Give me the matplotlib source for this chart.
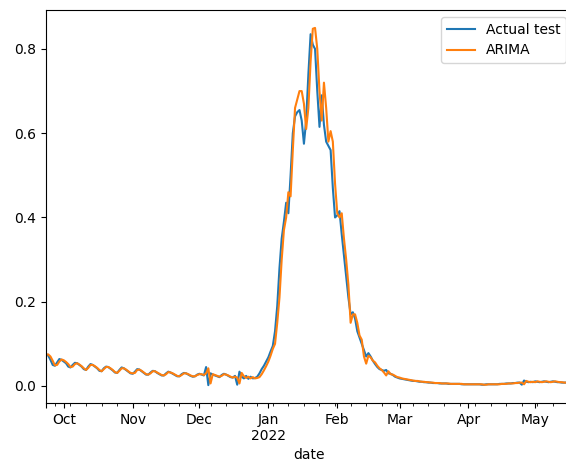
import pandas as pd
import matplotlib
matplotlib.use("Agg")
import matplotlib.pyplot as plt

# daily values, 2021-09-23 .. 2022-05-18
actual_sep = [0.076, 0.072, 0.062, 0.050, 0.048, 0.056, 0.064, 0.062]
actual_oct = [0.058, 0.054, 0.046, 0.044, 0.050, 0.055, 0.054, 0.050, 0.046, 0.040, 0.038,
              0.046, 0.052, 0.050, 0.046, 0.042, 0.036, 0.035, 0.042, 0.046, 0.045, 0.041,
              0.037, 0.032, 0.031, 0.038, 0.044, 0.042, 0.038, 0.034, 0.030]
actual_nov = [0.029, 0.034, 0.040, 0.039, 0.035, 0.031, 0.027, 0.027, 0.032, 0.036, 0.035,
              0.031, 0.028, 0.025, 0.025, 0.030, 0.034, 0.032, 0.029, 0.026, 0.023, 0.023,
              0.028, 0.031, 0.030, 0.027, 0.024, 0.022, 0.023, 0.027]
actual_dec = [0.029, 0.027, 0.025, 0.045, 0.002, 0.030, 0.027, 0.025, 0.023, 0.021, 0.026,
              0.029, 0.027, 0.024, 0.021, 0.020, 0.024, 0.003, 0.034, 0.022, 0.018, 0.024,
              0.017, 0.022, 0.018, 0.019, 0.022, 0.030, 0.040, 0.048, 0.058]
actual_jan = [0.068, 0.082, 0.095, 0.13, 0.19, 0.28, 0.35, 0.39, 0.435, 0.41, 0.50,
              0.60, 0.64, 0.65, 0.655, 0.63, 0.575, 0.63, 0.74, 0.835, 0.81, 0.80,
              0.70, 0.615, 0.69, 0.62, 0.58, 0.57, 0.56, 0.47, 0.40]
actual_feb = [0.405, 0.415, 0.36, 0.31, 0.26, 0.21, 0.17, 0.175, 0.16, 0.13, 0.115,
              0.10, 0.085, 0.07, 0.078, 0.07, 0.06, 0.052, 0.045, 0.040, 0.038, 0.036,
              0.038, 0.030, 0.029, 0.026, 0.022, 0.020]
actual_mar = [0.018, 0.017, 0.016, 0.015, 0.014, 0.013, 0.012, 0.012, 0.011, 0.010, 0.010,
              0.009, 0.009, 0.008, 0.008, 0.007, 0.007, 0.007, 0.006, 0.006, 0.006, 0.006,
              0.005, 0.005, 0.005, 0.005, 0.005, 0.005, 0.004, 0.004, 0.004]
actual_apr = [0.004, 0.004, 0.004, 0.004, 0.004, 0.004, 0.003, 0.003, 0.004, 0.004, 0.004,
              0.004, 0.004, 0.004, 0.005, 0.005, 0.005, 0.006, 0.006, 0.006, 0.007, 0.007,
              0.008, 0.008, 0.003, 0.013, 0.010, 0.009, 0.010, 0.009]
actual_may = [0.011, 0.010, 0.009, 0.010, 0.011, 0.010, 0.009, 0.010, 0.011, 0.010, 0.009,
              0.009, 0.008, 0.008, 0.008, 0.009, 0.008, 0.008]

arima_sep = [0.074, 0.075, 0.070, 0.060, 0.049, 0.050, 0.058, 0.063]
arima_oct = [0.061, 0.057, 0.052, 0.045, 0.046, 0.052, 0.054, 0.051, 0.047, 0.042, 0.038,
             0.043, 0.050, 0.050, 0.047, 0.043, 0.038, 0.035, 0.040, 0.045, 0.045, 0.042,
             0.038, 0.033, 0.031, 0.036, 0.042, 0.042, 0.039, 0.035, 0.031]
arima_nov = [0.030, 0.031, 0.038, 0.039, 0.036, 0.032, 0.028, 0.027, 0.030, 0.035, 0.035,
             0.032, 0.029, 0.026, 0.025, 0.028, 0.033, 0.032, 0.030, 0.027, 0.024, 0.023,
             0.026, 0.030, 0.030, 0.028, 0.025, 0.023, 0.023, 0.026]
arima_dec = [0.028, 0.028, 0.026, 0.030, 0.042, 0.006, 0.028, 0.026, 0.024, 0.022, 0.024,
             0.028, 0.027, 0.025, 0.022, 0.020, 0.022, 0.020, 0.006, 0.031, 0.023, 0.019,
             0.022, 0.018, 0.021, 0.018, 0.019, 0.021, 0.028, 0.037, 0.047]
arima_jan = [0.058, 0.072, 0.088, 0.10, 0.15, 0.21, 0.30, 0.37, 0.40, 0.46, 0.45,
             0.56, 0.66, 0.68, 0.70, 0.70, 0.67, 0.61, 0.66, 0.77, 0.848, 0.85,
             0.80, 0.70, 0.63, 0.72, 0.66, 0.58, 0.605, 0.58, 0.48]
arima_feb = [0.41, 0.40, 0.41, 0.35, 0.30, 0.24, 0.15, 0.17, 0.17, 0.15, 0.12,
             0.11, 0.07, 0.053, 0.072, 0.068, 0.06, 0.056, 0.048, 0.042, 0.038, 0.032,
             0.025, 0.035, 0.028, 0.027, 0.024, 0.021]
arima_mar = [0.020, 0.018, 0.017, 0.016, 0.015, 0.014, 0.013, 0.012, 0.012, 0.011, 0.010,
             0.010, 0.009, 0.009, 0.008, 0.008, 0.007, 0.007, 0.007, 0.006, 0.006, 0.006,
             0.006, 0.005, 0.005, 0.005, 0.005, 0.005, 0.005, 0.004, 0.004]
arima_apr = [0.004, 0.004, 0.004, 0.004, 0.004, 0.004, 0.004, 0.003, 0.003, 0.004, 0.004,
             0.004, 0.004, 0.004, 0.004, 0.005, 0.005, 0.005, 0.006, 0.006, 0.006, 0.007,
             0.007, 0.008, 0.008, 0.004, 0.012, 0.010, 0.009, 0.010]
arima_may = [0.009, 0.011, 0.010, 0.009, 0.010, 0.011, 0.010, 0.009, 0.010, 0.011, 0.010,
             0.009, 0.009, 0.008, 0.008, 0.008, 0.009, 0.008]

actual = (actual_sep + actual_oct + actual_nov + actual_dec + actual_jan + actual_feb
          + actual_mar + actual_apr + actual_may)
arima = (arima_sep + arima_oct + arima_nov + arima_dec + arima_jan + arima_feb
         + arima_mar + arima_apr + arima_may)

dates = pd.date_range("2021-09-23", periods=len(actual), freq="D", name="date")
df = pd.DataFrame({"Actual test": actual, "ARIMA": arima}, index=dates)

fig = plt.figure(figsize=(5.66, 4.62), dpi=100)
# the right edge of the axes runs slightly past the picture, as in the reference
ax = fig.add_axes([0.0813, 0.1277, 0.931, 0.8506])
df.plot(ax=ax)
ax.legend(loc="upper right")

fig.savefig("out.png", dpi=100)
